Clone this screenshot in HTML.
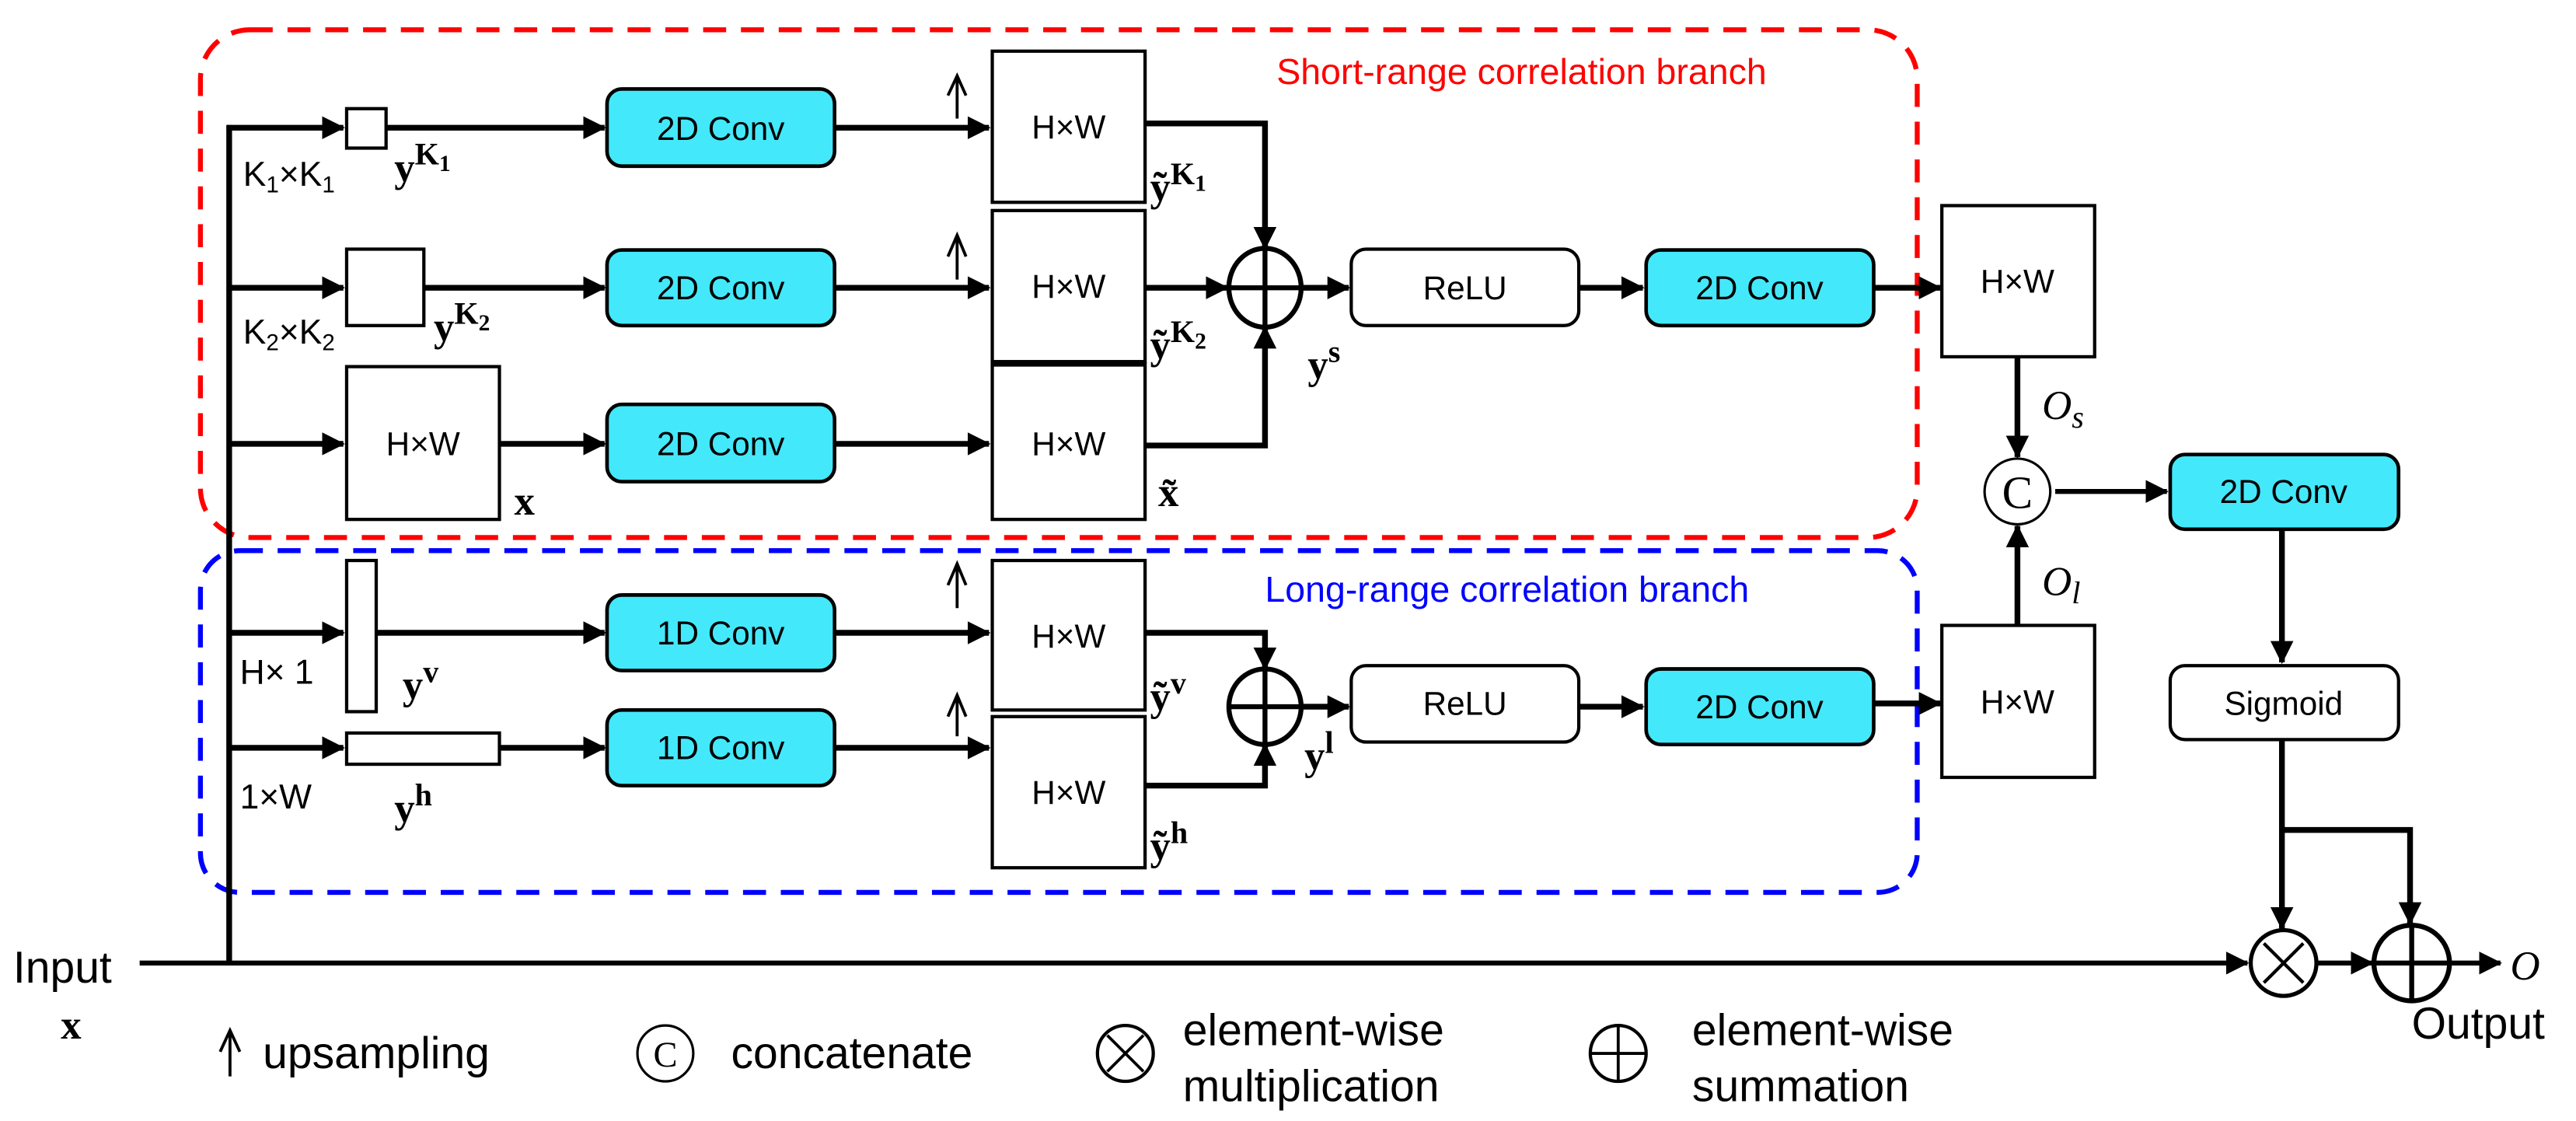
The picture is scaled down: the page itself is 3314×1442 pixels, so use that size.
<!DOCTYPE html>
<html><head><meta charset="utf-8"><style>
html,body{margin:0;padding:0;background:#fff;}
svg{display:block;}
.t{font-family:"Liberation Sans",sans-serif;font-size:20px;fill:#000;}
.tl{font-family:"Liberation Sans",sans-serif;font-size:27px;fill:#000;}
.m{font-family:"Liberation Serif",serif;font-weight:bold;font-size:25px;fill:#000;}
.mi{font-family:"Liberation Serif",serif;font-style:italic;font-size:25px;fill:#000;}
.sup{font-size:19px;}
.sb{font-size:14px;}
</style></head><body>
<svg width="3314" height="1442" viewBox="0 0 1568 682" xmlns="http://www.w3.org/2000/svg">
<defs>
<marker id="a" markerWidth="14" markerHeight="14" refX="13" refY="7" orient="auto" markerUnits="userSpaceOnUse"><path d="M0,0 L14,7 L0,14 z" fill="#000"/></marker>
</defs>
<rect width="1568" height="682" fill="#fff"/>
<rect x="122" y="18" width="1045" height="309" rx="30" fill="none" stroke="#f00" stroke-width="3" stroke-dasharray="14,9"/>
<rect x="122" y="335" width="1045" height="208" rx="24" fill="none" stroke="#00f" stroke-width="3" stroke-dasharray="14,9"/>
<text x="777" y="51" style="font-family:'Liberation Sans',sans-serif;font-size:22px;fill:#f00">Short-range correlation branch</text>
<text x="770" y="366" style="font-family:'Liberation Sans',sans-serif;font-size:22px;fill:#00f">Long-range correlation branch</text>

<g stroke="#000" stroke-width="3.5" fill="none">
<line x1="139.5" y1="76" x2="139.5" y2="587"/>
<line x1="85" y1="586" x2="1368" y2="586" stroke-width="3" marker-end="url(#a)"/>
<line x1="138" y1="77.6" x2="209" y2="77.6" marker-end="url(#a)"/>
<line x1="138" y1="175" x2="209" y2="175" marker-end="url(#a)"/>
<line x1="138" y1="270" x2="209" y2="270" marker-end="url(#a)"/>
<line x1="138" y1="385" x2="209" y2="385" marker-end="url(#a)"/>
<line x1="138" y1="455" x2="209" y2="455" marker-end="url(#a)"/>
<line x1="235" y1="77.6" x2="368" y2="77.6" marker-end="url(#a)"/>
<line x1="258" y1="175" x2="368" y2="175" marker-end="url(#a)"/>
<line x1="304" y1="270" x2="368" y2="270" marker-end="url(#a)"/>
<line x1="229" y1="385" x2="368" y2="385" marker-end="url(#a)"/>
<line x1="304" y1="455" x2="368" y2="455" marker-end="url(#a)"/>
<line x1="508" y1="77.6" x2="602" y2="77.6" marker-end="url(#a)"/>
<line x1="508" y1="175" x2="602" y2="175" marker-end="url(#a)"/>
<line x1="508" y1="270" x2="602" y2="270" marker-end="url(#a)"/>
<line x1="508" y1="385" x2="602" y2="385" marker-end="url(#a)"/>
<line x1="508" y1="455" x2="602" y2="455" marker-end="url(#a)"/>
<polyline points="697,75 770,75 770,151" marker-end="url(#a)"/>
<line x1="697" y1="175" x2="747" y2="175" marker-end="url(#a)"/>
<polyline points="697,271 770,271 770,199" marker-end="url(#a)"/>
<line x1="792" y1="175" x2="821" y2="175" marker-end="url(#a)"/>
<line x1="961" y1="175" x2="1000" y2="175" marker-end="url(#a)"/>
<line x1="1141" y1="175" x2="1181" y2="175" marker-end="url(#a)"/>
<polyline points="697,385 770,385 770,407" marker-end="url(#a)"/>
<polyline points="697,478 770,478 770,453" marker-end="url(#a)"/>
<line x1="792" y1="430" x2="821" y2="430" marker-end="url(#a)"/>
<line x1="961" y1="430" x2="1000" y2="430" marker-end="url(#a)"/>
<line x1="1141" y1="428" x2="1181" y2="428" marker-end="url(#a)"/>
<line x1="1228" y1="217" x2="1228" y2="278" marker-end="url(#a)"/>
<line x1="1228" y1="380" x2="1228" y2="320" marker-end="url(#a)"/>
<line x1="1251" y1="299" x2="1319" y2="299" stroke-width="3" marker-end="url(#a)"/>
<line x1="1389" y1="322" x2="1389" y2="403" marker-end="url(#a)"/>
<polyline points="1389,450 1389,565" marker-end="url(#a)"/>
<polyline points="1389,505 1467,505 1467,562" marker-end="url(#a)"/>
<line x1="1410" y1="586" x2="1444" y2="586" stroke-width="3" marker-end="url(#a)"/>
<line x1="1491" y1="586" x2="1522" y2="586" stroke-width="3" marker-end="url(#a)"/>
</g>
<g stroke="#000" stroke-width="1.8" fill="none">
<path d="M582.6,72 V47 M577,58 L582.6,46 L588,58"/>
<path d="M582.6,170 V144 M577,156 L582.6,143 L588,156"/>
<path d="M582.6,370 V344 M577,356 L582.6,343 L588,356"/>
<path d="M582.6,448 V424 M577,436 L582.6,423 L588,436"/>
</g>
<g fill="#fff" stroke="#000" stroke-width="2">
<rect x="211" y="66" width="24" height="24"/>
<rect x="211" y="151.5" width="47" height="46.5"/>
<rect x="211" y="223" width="93" height="93"/>
<rect x="211" y="341" width="18" height="92"/>
<rect x="211" y="446" width="93" height="19"/>
<rect x="604" y="31" width="93" height="92"/>
<rect x="604" y="128" width="93" height="92"/>
<rect x="604" y="221" width="93" height="95"/>
<rect x="604" y="341" width="93" height="91"/>
<rect x="604" y="436" width="93" height="92"/>
<rect x="1182" y="125" width="93" height="92"/>
<rect x="1182" y="380.5" width="93" height="92.5"/>
<rect x="822.5" y="151.5" width="138.5" height="46.5" rx="9"/>
<rect x="822.5" y="405" width="138.5" height="46.5" rx="9"/>
<rect x="1321" y="405" width="139" height="45" rx="9"/>
</g>
<line x1="604" y1="221" x2="697" y2="221" stroke="#000" stroke-width="4"/>
<g fill="#44e8fb" stroke="#000" stroke-width="2.2">
<rect x="369.5" y="54" width="138.5" height="47" rx="9"/>
<rect x="369.5" y="152" width="138.5" height="46" rx="9"/>
<rect x="369.5" y="246" width="138.5" height="47" rx="9"/>
<rect x="369.5" y="362" width="138.5" height="46" rx="9"/>
<rect x="369.5" y="432" width="138.5" height="46" rx="9"/>
<rect x="1002" y="152" width="138.5" height="46" rx="9"/>
<rect x="1002" y="407" width="138.5" height="46" rx="9"/>
<rect x="1321" y="276.5" width="139" height="45.5" rx="9"/>
</g>
<g fill="#fff" stroke="#000" stroke-width="3">
<ellipse cx="770" cy="175" rx="22" ry="24"/>
<ellipse cx="770" cy="430" rx="22" ry="23"/>
<circle cx="1468" cy="586" r="23"/>
<circle cx="1390" cy="586" r="20" stroke-width="2.5"/>
</g>
<circle cx="1228" cy="299" r="20" fill="#fff" stroke="#000" stroke-width="1.5"/>
<g stroke="#000" stroke-width="3">
<path d="M748,175 H792 M770,151 V199"/>
<path d="M748,430 H792 M770,407 V453"/>
<path d="M1445,586 H1491 M1468,563 V609"/>
<path d="M1378,574 L1402,598 M1402,574 L1378,598" stroke-width="2"/>
</g>
<text x="1228" y="309" text-anchor="middle" style="font-family:'Liberation Serif',serif;font-size:28px">C</text>
<g class="t" text-anchor="middle">
<text x="438.7" y="85">2D Conv</text>
<text x="438.7" y="182">2D Conv</text>
<text x="438.7" y="277">2D Conv</text>
<text x="438.7" y="392">1D Conv</text>
<text x="438.7" y="462">1D Conv</text>
<text x="1071" y="182">2D Conv</text>
<text x="1071" y="437">2D Conv</text>
<text x="1390" y="306">2D Conv</text>
<text x="891.7" y="182">ReLU</text>
<text x="891.7" y="435">ReLU</text>
<text x="1390" y="435">Sigmoid</text>
<text x="257.5" y="277">H×W</text>
<text x="650.5" y="84">H×W</text>
<text x="650.5" y="181">H×W</text>
<text x="650.5" y="277">H×W</text>
<text x="650.5" y="394">H×W</text>
<text x="650.5" y="489">H×W</text>
<text x="1228" y="178">H×W</text>
<text x="1228" y="434">H×W</text>
</g>
<g class="t" style="font-size:21px">
<text x="148" y="113">K<tspan class="sb" dy="4">1</tspan><tspan dy="-4">×K</tspan><tspan class="sb" dy="4">1</tspan></text>
<text x="148" y="209">K<tspan class="sb" dy="4">2</tspan><tspan dy="-4">×K</tspan><tspan class="sb" dy="4">2</tspan></text>
<text x="146" y="416">H× 1</text>
<text x="146" y="492">1×W</text>
</g>
<g class="tl">
<text x="8" y="598">Input</text>
<text x="1468" y="632">Output</text>
<text x="160" y="650">upsampling</text>
<text x="445" y="650">concatenate</text>
<text x="720" y="636">element-wise</text>
<text x="720" y="670">multiplication</text>
<text x="1030" y="636">element-wise</text>
<text x="1030" y="670">summation</text>
</g>
<g class="m">
<text x="240" y="110">y<tspan class="sup" dy="-10">K</tspan><tspan class="sb" dy="4">1</tspan></text>
<text x="264" y="207">y<tspan class="sup" dy="-10">K</tspan><tspan class="sb" dy="4">2</tspan></text>
<text x="313" y="313">x</text>
<text x="700" y="122">ỹ<tspan class="sup" dy="-10">K</tspan><tspan class="sb" dy="4">1</tspan></text>
<text x="700" y="218">ỹ<tspan class="sup" dy="-10">K</tspan><tspan class="sb" dy="4">2</tspan></text>
<text x="705" y="308">x̃</text>
<text x="796" y="230">y<tspan class="sup" dy="-10">s</tspan></text>
<text x="245" y="425">y<tspan class="sup" dy="-10">v</tspan></text>
<text x="700" y="432">ỹ<tspan class="sup" dy="-10">v</tspan></text>
<text x="240" y="500">y<tspan class="sup" dy="-10">h</tspan></text>
<text x="700" y="523">ỹ<tspan class="sup" dy="-10">h</tspan></text>
<text x="794" y="468">y<tspan class="sup" dy="-10">l</tspan></text>
<text x="37" y="632">x</text>
</g>
<g class="mi">
<text x="1243" y="255">O<tspan class="sup" dy="5">s</tspan></text>
<text x="1243" y="362">O<tspan class="sup" dy="5">l</tspan></text>
<text x="1528" y="596">O</text>
</g>
<g stroke="#000" fill="none" stroke-width="1.8">
<path d="M140,655 V628 M134,640 L140,627 L146,640"/>
<circle cx="405" cy="641" r="17" stroke-width="1.5"/>
<circle cx="685" cy="641" r="17" stroke-width="2"/>
<path d="M674,630 L696,652 M696,630 L674,652"/>
<circle cx="985" cy="641" r="17" stroke-width="2"/>
<path d="M968,641 H1002 M985,624 V658"/>
</g>
<text x="405" y="649" text-anchor="middle" style="font-family:'Liberation Serif',serif;font-size:22px">C</text>
</svg>
</body></html>
